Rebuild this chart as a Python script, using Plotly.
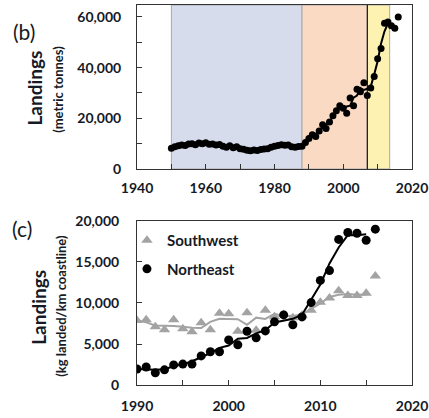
import plotly.graph_objects as go

# ---- panel (b): total landings, metric tonnes ----
top_years = list(range(1950, 2017))
top_values = [8200, 8800, 9200, 9500, 9300, 9900, 10000, 9600, 10300, 10000,
              10400, 9800, 9900, 9500, 9700, 9000, 8600, 9200, 8400, 8800,
              8000, 7800, 7400, 7200, 7500, 7300, 7700, 7900, 8000, 8600,
              9000, 9300, 9600, 9400, 9500, 8800, 8600, 8900, 9000, 10500,
              12000, 13500, 12800, 15000, 17500, 16000, 18500, 21000, 23000, 25000,
              24000, 22000, 28000, 25000, 31500, 30500, 34000, 29000, 32000, 36500,
              43500, 47500, 57500, 58000, 56500, 55500, 60000]
top_trend_years = list(range(1950, 2016))
top_trend = [8500, 8830, 9170, 9330, 9570, 9730, 9830, 9970, 9970, 10230,
             10070, 10030, 9730, 9700, 9400, 9100, 8930, 8730, 8800, 8400,
             8200, 7730, 7470, 7370, 7330, 7500, 7630, 7870, 8170, 8530,
             8970, 9300, 9430, 9500, 9230, 8970, 8770, 8830, 9470, 10500,
             12000, 12770, 13770, 15100, 16170, 17330, 18500, 20830, 23000, 24000,
             23670, 24670, 25000, 28170, 29000, 32000, 31170, 31670, 32500, 37330,
             42500, 49500, 54330, 57330, 56670, 56000]
periods = [(1950, 1988, "#D6DCEC"), (1988, 2007, "#FADAC3"), (2007, 2013.5, "#FEF2B2")]
top_xticks = [1940, 1960, 1980, 2000, 2020]
top_yticks = [0, 20000, 40000, 60000]

# ---- panel (c): landings per km coastline ----
bot_years = list(range(1990, 2017))
ne_values = [1950, 2200, 1500, 1850, 2450, 2550, 2550, 3550, 4050, 4050,
             5500, 4900, 6550, 5750, 6600, 7700, 8550, 7350, 8300, 10050,
             12750, 13950, 17750, 18600, 18500, 17650, 19000]
sw_values = [7850, 7970, 7100, 6740, 7970, 6850, 6500, 7600, 6740, 8760,
             8700, 6560, 8820, 6680, 9130, 8330, 8600, 8200, 8500, 9130,
             10100, 10600, 11500, 10900, 10900, 11200, 13300]
bot_trend_years = list(range(1990, 2016))
ne_trend = [1950, 1880, 1850, 1930, 2280, 2520, 2900, 3380, 3880, 4530,
            4820, 5650, 5730, 6300, 6680, 7620, 7870, 8070, 8570, 10370,
            12250, 14820, 16770, 18280, 18250, 18380]
sw_trend = [7900, 7640, 7270, 7270, 7190, 7110, 6980, 6950, 7700, 8070,
            8010, 8030, 7350, 8210, 8050, 8690, 8380, 8430, 8610, 9240,
            9940, 10730, 11000, 11100, 11000, 11050]
bot_xticks = [1990, 2000, 2010, 2020]
bot_yticks = [0, 5000, 10000, 15000, 20000]

FONT = "Lato"
TXT = "#151a26"
tickfont = dict(family=FONT, size=14, color=TXT, weight="bold")
AX = "#333333"
GREY = "#A3A3A3"

fig = go.Figure()
fig.add_trace(go.Scatter(x=top_trend_years, y=top_trend, mode="lines",
                         line=dict(color="black", width=2), showlegend=False,
                         xaxis="x", yaxis="y"))
fig.add_trace(go.Scatter(x=top_years, y=top_values, mode="markers",
                         marker=dict(color="black", size=7), showlegend=False,
                         xaxis="x", yaxis="y"))

fig.add_trace(go.Scatter(x=bot_trend_years, y=sw_trend, mode="lines",
                         line=dict(color=GREY, width=2), showlegend=False,
                         xaxis="x2", yaxis="y2"))
fig.add_trace(go.Scatter(x=bot_years, y=sw_values, mode="markers", name="Southwest",
                         marker=dict(color=GREY, size=10, symbol="triangle-up"),
                         legendgroup="sw", xaxis="x2", yaxis="y2"))
fig.add_trace(go.Scatter(x=bot_trend_years, y=ne_trend, mode="lines",
                         line=dict(color="black", width=2), showlegend=False,
                         xaxis="x2", yaxis="y2"))
fig.add_trace(go.Scatter(x=bot_years, y=ne_values, mode="markers", name="Northeast",
                         marker=dict(color="black", size=9),
                         legendgroup="ne", xaxis="x2", yaxis="y2"))

shapes = []
for x0, x1, col in periods:
    shapes.append(dict(type="rect", xref="x", yref="y domain", x0=x0, x1=x1, y0=0, y1=1,
                       fillcolor=col, line=dict(color="#A8A8A8", width=1), layer="below"))
shapes.append(dict(type="line", xref="x", yref="y domain", x0=periods[1][1], x1=periods[1][1],
                   y0=0, y1=1, line=dict(color="black", width=1), layer="below"))

common = dict(showline=True, linecolor=AX, linewidth=1, mirror=True, showgrid=False,
              zeroline=False, ticks="inside", ticklen=5, tickcolor=AX, tickfont=tickfont,
              automargin=False)

fig.update_layout(
    width=429, height=418,
    margin=dict(l=137, r=17, t=5, b=33, autoexpand=False),
    plot_bgcolor="white", paper_bgcolor="white",
    shapes=shapes,
    xaxis=dict(domain=[0, 1], anchor="y", range=[1940, 2020], tickvals=top_xticks,
               minor=dict(dtick=10, tick0=1940, ticks="inside", ticklen=5, tickcolor=AX),
               ticklabelstandoff=6, **common),
    yaxis=dict(domain=[0.5684, 1], anchor="x", range=[0, 64700], tickvals=top_yticks,
               tickformat=",", minor=dict(dtick=10000, tick0=0, ticks="inside", ticklen=5, tickcolor=AX),
               ticklabelstandoff=12, **common),
    xaxis2=dict(domain=[0, 1], anchor="y2", range=[1990, 2020], tickvals=bot_xticks,
                minor=dict(dtick=5, tick0=1990, ticks="inside", ticklen=5, tickcolor=AX),
                ticklabelstandoff=8, **common),
    yaxis2=dict(domain=[0, 0.4316], anchor="x2", range=[0, 20000], tickvals=bot_yticks,
                tickformat=",", ticklabelstandoff=14, **common),
    legend=dict(x=-0.0365, y=0.4235, xanchor="left", yanchor="top", traceorder="grouped",
                tracegroupgap=6, bgcolor="rgba(0,0,0,0)",
                font=dict(family=FONT, size=15, color=TXT, weight="bold")),
    showlegend=True,
)

ann = [
    dict(text="(b)", x=-0.412, y=0.929, font=dict(family=FONT, size=21, color=TXT), textangle=0),
    dict(text="(c)", x=-0.420, y=0.413, font=dict(family=FONT, size=21, color=TXT), textangle=0),
    dict(text="Landings", x=-0.372, y=0.782, font=dict(family=FONT, size=19, color=TXT, weight="bold"), textangle=-90),
    dict(text="(metric tonnes)", x=-0.288, y=0.779, font=dict(family=FONT, size=13, color=TXT, weight="bold"), textangle=-90),
    dict(text="Landings", x=-0.361, y=0.205, font=dict(family=FONT, size=19, color=TXT, weight="bold"), textangle=-90),
    dict(text="(kg landed/km coastline)", x=-0.277, y=0.208, font=dict(family=FONT, size=13, color=TXT, weight="bold"), textangle=-90),
]
for a in ann:
    fig.add_annotation(xref="paper", yref="paper", showarrow=False, xanchor="center", yanchor="middle", **a)

fig.write_html("out.html", config={"displayModeBar": False},
               post_script="document.body.style.margin='0px';document.body.style.overflow='hidden';")
